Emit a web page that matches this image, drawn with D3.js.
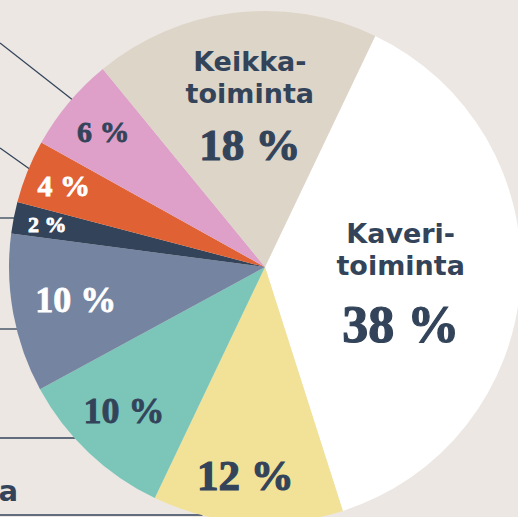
<!DOCTYPE html>
<html>
<head>
<meta charset="utf-8">
<script src="https://cdn.jsdelivr.net/npm/d3@7"></script>
<style>
  html, body { margin: 0; padding: 0; background: #ece7e3; overflow: hidden; }
</style>
</head>
<body>
<svg id="chart" width="518" height="517"></svg>
<script>
// slice data, clockwise from the white slice
const categories = ["Kaveri-\ntoiminta", "", "", "", "", "", "", "Keikka-\ntoiminta"];
const values = [38, 12, 10, 10, 2, 4, 6, 18];
const valueLabels = ["38 %", "12 %", "10 %", "10 %", "2 %", "4 %", "6 %", "18 %"];
const colors = ["#ffffff", "#f2e298", "#7bc6b9", "#7585a1", "#33445a", "#e06133", "#dea0c8", "#ddd5c8"];

const width = 518;
const height = 517;
const cx = 265;
const cy = 267;
const radius = 256;
const navy = "#33445a";

const toRad = (deg) => (deg * Math.PI) / 180;

// label placement: radius from centre, nudge in degrees, pct font size, text colour
const labelStyles = [
  { r: 136, nudge: 0, size: 52, color: navy },
  { r: 209, nudge: 1.5, size: 43, color: navy },
  { r: 201, nudge: 1, size: 36, color: navy },
  { r: 192, nudge: 0.7, size: 36, color: "#ffffff" },
  { r: 222, nudge: 0, size: 22, color: "#ffffff" },
  { r: 217, nudge: 0, size: 30, color: "#ffffff" },
  { r: 211, nudge: 0, size: 30, color: navy },
  { r: 164, nudge: 1.6, size: 45, color: navy },
];

// leader lines coming in from the left edge
// slanted ones end inside a slice (at = fraction of the slice), flat ones run to the rim
const leaders = [
  { y: 43, slice: 6, at: 0.55, flat: false },
  { y: 148, slice: 5, at: 0.55, flat: false },
  { y: 218, flat: true },
  { y: 329, flat: true },
  { y: 438, flat: true },
  { y: 515, flat: true },
];

const svg = d3.select("#chart");

svg.append("rect")
  .attr("width", width)
  .attr("height", height)
  .attr("fill", "#ece7e3");

const pie = d3.pie()
  .sort(null)
  .value((d) => d)
  .startAngle(toRad(25.5))
  .endAngle(toRad(25.5) + 2 * Math.PI);

const arcs = pie(values);

const polar = (r, a) => [cx + r * Math.sin(a), cy - r * Math.cos(a)];

const leaderEnd = (d) => {
  if (d.flat) {
    const dy = d.y - cy;
    return [cx - Math.sqrt(radius * radius - dy * dy) + 1, d.y];
  }
  const s = arcs[d.slice];
  return polar(radius - 1, s.startAngle + (s.endAngle - s.startAngle) * d.at);
};

// leader lines (under the pie)
svg.append("g")
  .attr("stroke", navy)
  .attr("stroke-width", 1.3)
  .selectAll("line")
  .data(leaders)
  .join("line")
  .attr("x1", 0)
  .attr("y1", (d) => d.y)
  .attr("x2", (d) => leaderEnd(d)[0])
  .attr("y2", (d) => leaderEnd(d)[1]);

const arc = d3.arc().innerRadius(0).outerRadius(radius);

const g = svg.append("g").attr("transform", `translate(${cx},${cy})`);

g.selectAll("path")
  .data(arcs)
  .join("path")
  .attr("fill", (d, i) => colors[i])
  .attr("d", arc);

// labels
const labels = svg.append("g").attr("text-anchor", "middle");

const pctText = (x, y, st, txt) =>
  labels.append("text")
    .attr("x", x)
    .attr("y", y)
    .attr("fill", st.color)
    .attr("stroke", st.color)
    .attr("stroke-width", st.size > 40 ? 1.2 : 0.8)
    .attr("font-family", "'Liberation Serif', serif")
    .attr("font-weight", 700)
    .attr("font-size", st.size)
    .text(txt);

arcs.forEach((d, i) => {
  const st = labelStyles[i];
  const mid = (d.startAngle + d.endAngle) / 2 + toRad(st.nudge);
  const [x, y] = polar(st.r, mid);
  const name = categories[i];
  if (name) {
    const lines = name.split("\n");
    lines.forEach((ln, j) => {
      labels.append("text")
        .attr("x", x)
        .attr("y", y - 33 + j * 32)
        .attr("fill", st.color)
        .attr("font-family", "'DejaVu Sans', sans-serif")
        .attr("font-weight", 700)
        .attr("font-size", 27)
        .text(ln);
    });
    pctText(x, y - 1 + st.size * 1.28, st, valueLabels[i]);
  } else {
    pctText(x, y, st, valueLabels[i]).attr("dy", "0.34em");
  }
});

// label cut off by the left edge at the bottom
svg.append("text")
  .attr("x", 18)
  .attr("y", 501)
  .attr("text-anchor", "end")
  .attr("fill", navy)
  .attr("font-family", "'DejaVu Sans', sans-serif")
  .attr("font-weight", 700)
  .attr("font-size", 29)
  .text("toiminta");
</script>
</body>
</html>
